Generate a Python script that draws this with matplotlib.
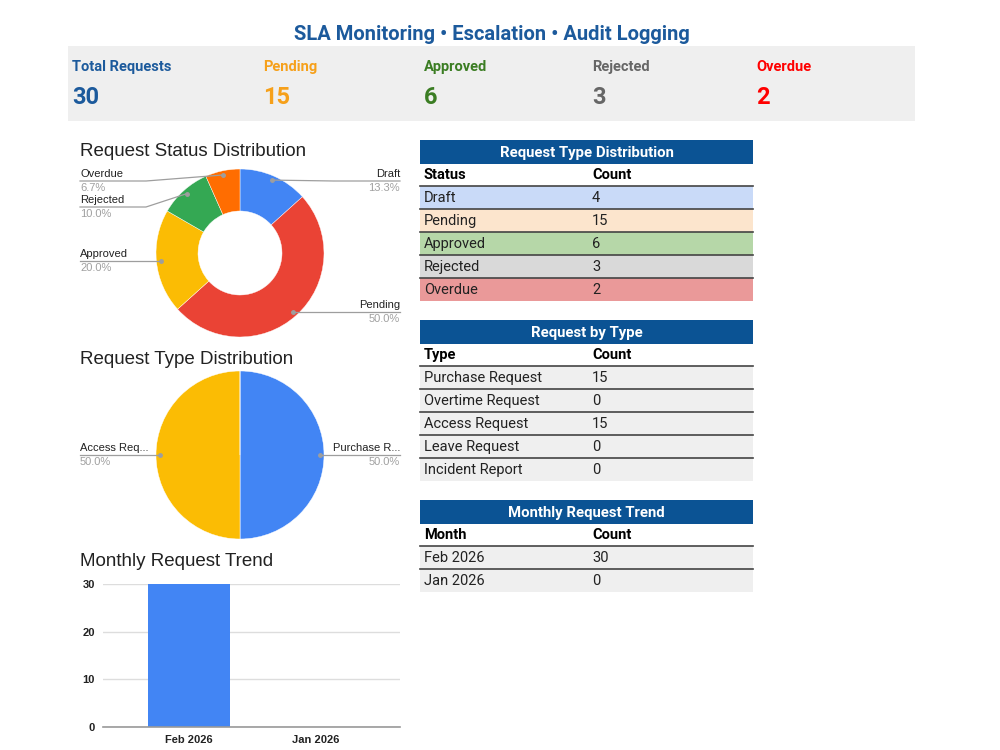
import numpy as np
import matplotlib
matplotlib.use("Agg")
from matplotlib import pyplot as plt
from matplotlib.patches import Rectangle

# ---- data ----
kpi_labels = ["Total Requests", "Pending", "Approved", "Rejected", "Overdue"]
kpi_values = [30, 15, 6, 3, 2]
kpi_colors = ["#1c5a9c", "#f6a01a", "#3b7d23", "#666666", "#ff0000"]

status_names = ["Draft", "Pending", "Approved", "Rejected", "Overdue"]
status_counts = [4, 15, 6, 3, 2]
status_row_colors = ["#c9daf8", "#fce5cd", "#b6d7a8", "#d9d9d9", "#ea9999"]

type_names = ["Purchase Request", "Overtime Request", "Access Request", "Leave Request", "Incident Report"]
type_counts = [15, 0, 15, 0, 0]

months = ["Feb 2026", "Jan 2026"]
month_counts = [30, 0]

gpal = ["#4285f4", "#ea4335", "#fbbc04", "#34a853", "#ff6d01"]
HDR = "#0b5394"
W, H = 1000, 750

fig = plt.figure(figsize=(10, 7.5), dpi=100)
bg = fig.add_axes([0, 0, 1, 1])
bg.set_xlim(0, W)
bg.set_ylim(H, 0)
bg.axis("off")

UI = ["Roboto", "DejaVu Sans"]
CH = ["Liberation Sans", "DejaVu Sans"]

# title + KPI strip
bg.text(492, 34, "SLA Monitoring \u2022 Escalation \u2022 Audit Logging", ha="center", va="center",
        fontsize=14.5, fontweight="bold", color="#1c5a9c", family=UI)
bg.add_patch(Rectangle((68, 46), 847, 75, color="#efefef", lw=0))
kpi_x = [72, 263, 424, 592, 756]
for x, lab, val, c in zip(kpi_x, kpi_labels, kpi_values, kpi_colors):
    bg.text(x, 67, lab, ha="left", va="center", fontsize=10.5, fontweight="bold", color=c, family=UI)
    bg.text(x, 98, str(val), ha="left", va="center", fontsize=17, fontweight="bold", color=c, family=UI)


def pix_axes(cx, cy, r, x0, x1, y0, y1):
    # axes whose data units are pie radii, centred on (cx, cy) in pixels
    ax = fig.add_axes([x0 / W, 1 - y1 / H, (x1 - x0) / W, (y1 - y0) / H])
    return ax


def pie_labels(ax, wedges, names, values, r, top_y):
    total = sum(values)
    px = 1.0 / r  # one pixel in data units
    left, right = [], []
    for w, n, v in zip(wedges, names, values):
        if v == 0:
            continue
        ang = np.deg2rad((w.theta1 + w.theta2) / 2)
        dx, dy = 0.95 * np.cos(ang), 0.95 * np.sin(ang)
        lab = n if len(n) <= 12 else n[:10] + "..."
        item = [dx, dy, lab, 100.0 * v / total]
        (left if dx < 0 else right).append(item)
    for side, items in (("L", left), ("R", right)):
        items.sort(key=lambda t: -t[1])
        prev = None
        for dx, dy, lab, pct in items:
            ly = min(dy, top_y)
            if prev is not None:
                ly = min(ly, prev - 26 * px)
            prev = ly
            if side == "L":
                bx, tx, ha = -1.0 - 10 * px, -160 * px, "left"
            else:
                bx, tx, ha = 1.0 + 10 * px, 160 * px, "right"
            ax.plot([dx, bx, tx], [dy, ly, ly], color="#9e9e9e", lw=0.9, zorder=1)
            ax.plot([dx], [dy], "o", ms=2.5, color="#9e9e9e", zorder=3)
            ax.text(tx, ly + 7 * px, lab, ha=ha, va="center", fontsize=8, color="#222222", family=CH)
            ax.text(tx, ly - 7 * px, "%.1f%%" % pct, ha=ha, va="center", fontsize=8,
                    color="#a0a0a0", family=CH)


def draw_pie(vals, names, cx, cy, y0, y1, hole):
    R = 84
    ax = pix_axes(cx, cy, R, 70, 410, y0, y1)
    wp = dict(edgecolor="white", linewidth=0.3)
    if hole:
        wp["width"] = 0.5
    wd, _ = ax.pie(vals, colors=gpal, startangle=90, counterclock=False, radius=1.0,
                   wedgeprops=wp, center=(0, 0), frame=True)
    ax.axis("off")
    ax.set_xlim((70 - cx) / R, (410 - cx) / R)
    ax.set_ylim((cy - y1) / R, (cy - y0) / R)
    return ax, wd, R


# donut: request status
ax1, wd1, R = draw_pie(status_counts, status_names, 240, 253, 140, 345, True)
pie_labels(ax1, wd1, status_names, status_counts, R, (253 - 181) / R)
bg.text(80, 152, "Request Status Distribution", ha="left", va="center", fontsize=13.5,
        color="#222222", family=CH)

# pie: request type
ax2, wd2, R = draw_pie(type_counts, type_names, 240, 455, 370, 545, False)
pie_labels(ax2, wd2, type_names, type_counts, R, 5.0)
bg.text(80, 360, "Request Type Distribution", ha="left", va="center", fontsize=13.5,
        color="#222222", family=CH)

# bar: monthly trend
bg.text(80, 562, "Monthly Request Trend", ha="left", va="center", fontsize=13.5,
        color="#222222", family=CH)
ax3 = fig.add_axes([103 / W, 1 - 727 / H, 297 / W, 143 / H])
xs = np.arange(len(months))
ax3.bar(xs, month_counts, width=0.65, color="#4285f4", zorder=2)
ax3.set_xlim(-0.68, 1.67)
ax3.set_ylim(0, 30)
ax3.set_yticks([0, 10, 20, 30])
ax3.set_xticks(xs)
ax3.set_xticklabels(months)
ax3.grid(axis="y", color="#dddddd", lw=1, zorder=0)
for s in ["top", "right", "left"]:
    ax3.spines[s].set_visible(False)
ax3.spines["bottom"].set_color("#999999")
ax3.spines["bottom"].set_linewidth(1.2)
ax3.spines["bottom"].set_zorder(3)
ax3.tick_params(length=0, labelsize=8, labelcolor="#222222", pad=6)
for t in ax3.get_xticklabels() + ax3.get_yticklabels():
    t.set_family(CH)
    t.set_fontweight("bold")


# tables
def table(y0, title, cols, names, counts, row_colors):
    x0, x1, xc = 420, 753, 592
    rh = 23
    bg.add_patch(Rectangle((x0, y0), x1 - x0, 24, color=HDR, lw=0))
    bg.text((x0 + x1) / 2, y0 + 12.5, title, ha="center", va="center", fontsize=10.7,
            fontweight="bold", color="white", family=UI)
    y = y0 + 24
    bg.text(x0 + 4, y + 11, cols[0], ha="left", va="center", fontsize=10.5, fontweight="bold",
            color="black", family=UI)
    bg.text(xc, y + 11, cols[1], ha="left", va="center", fontsize=10.5, fontweight="bold",
            color="black", family=UI)
    y += 22
    for i, (n, c) in enumerate(zip(names, counts)):
        bg.add_patch(Rectangle((x0, y), x1 - x0, rh, color=row_colors[i], lw=0))
        bg.plot([x0, x1], [y, y], color="#444444", lw=1.2)
        bg.text(x0 + 4, y + rh / 2 + 0.5, n, ha="left", va="center", fontsize=10.5, color="#222222", family=UI)
        bg.text(xc, y + rh / 2 + 0.5, str(c), ha="left", va="center", fontsize=10.5, color="#222222", family=UI)
        y += rh


table(140, "Request Type Distribution", ["Status", "Count"], status_names, status_counts, status_row_colors)
table(320, "Request by Type", ["Type", "Count"], type_names, type_counts, ["#efefef"] * len(type_names))
table(500, "Monthly Request Trend", ["Month", "Count"], months, month_counts, ["#efefef"] * len(months))

plt.savefig("out.png", dpi=100)
